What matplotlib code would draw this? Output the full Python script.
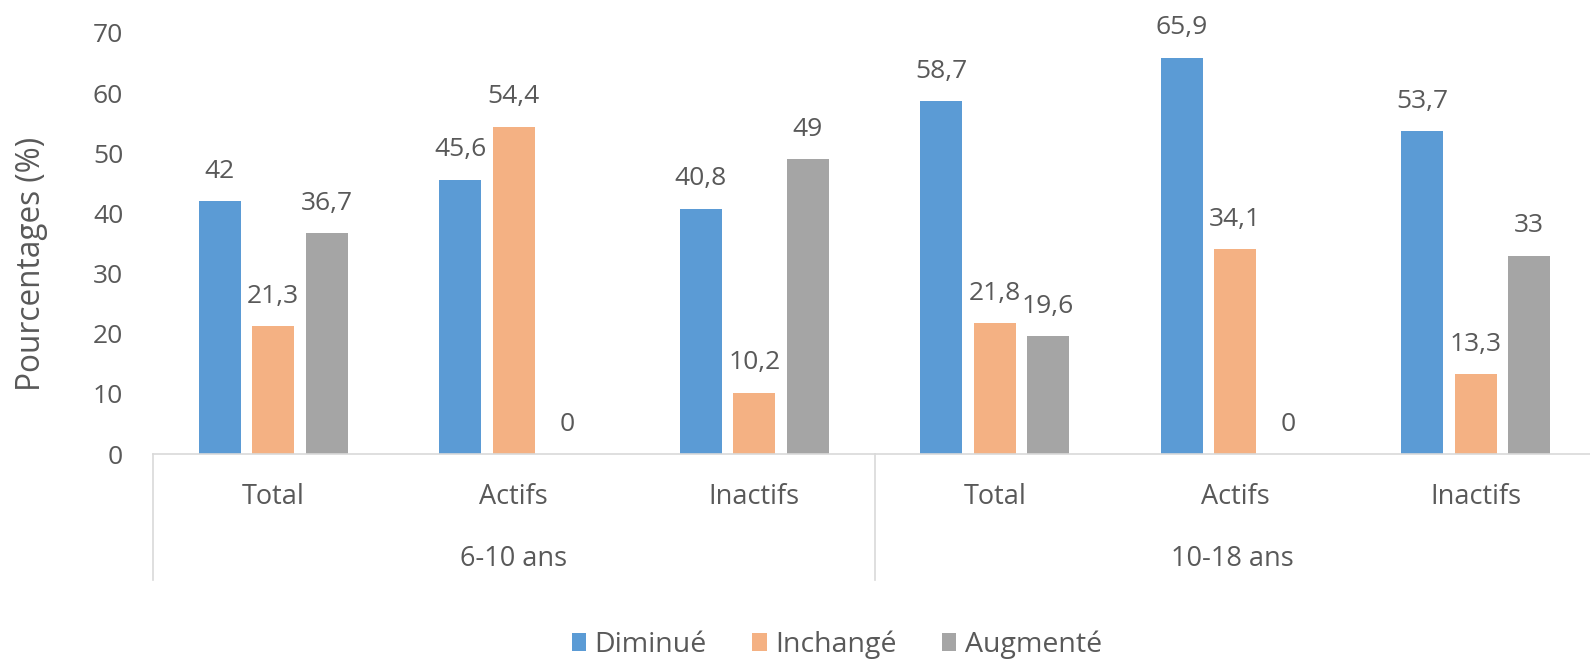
import matplotlib
matplotlib.use("Agg")
import matplotlib.pyplot as plt
import numpy as np

plt.rcParams['font.family'] = ['Open Sans', 'DejaVu Sans']

categories = ["Total", "Actifs", "Inactifs", "Total", "Actifs", "Inactifs"]
groups = ["6-10 ans", "10-18 ans"]
series_names = ["Diminué", "Inchangé", "Augmenté"]
diminue = [42, 45.6, 40.8, 58.7, 65.9, 53.7]
inchange = [21.3, 54.4, 10.2, 21.8, 34.1, 13.3]
augmente = [36.7, 0, 49, 19.6, 0, 33]
colors = ["#5B9BD5", "#F4B183", "#A5A5A5"]
yticks = [0, 10, 20, 30, 40, 50, 60, 70]

TXT = "#595959"
W, H = 1590, 662
fig = plt.figure(figsize=(W / 100, H / 100), dpi=100)
left, right = 153 / W, 1.0
bottom, top = 1 - 454 / H, 1 - 33 / H
ax = fig.add_axes([left, bottom, right - left, top - bottom])

x = np.arange(len(categories))
bw = 0.175
off = 0.222
series = [diminue, inchange, augmente]
for i, (vals, c, name) in enumerate(zip(series, colors, series_names)):
    pos = x + (i - 1) * off
    ax.bar(pos, vals, width=bw, color=c, label=name, zorder=2)
    for p, v in zip(pos, vals):
        lab = (f"{v:g}").replace(".", ",")
        ax.annotate(lab, (p, v), xytext=(0, 12.5), textcoords="offset points",
                    ha="center", va="bottom", fontsize=19, color=TXT)

span = (1590 - 153) / 240.5
ax.set_xlim(-0.5, -0.5 + span)
ax.set_ylim(0, 70)
ax.set_yticks(yticks)
ax.set_yticklabels([str(t) for t in yticks], fontsize=19, color=TXT)
ax.tick_params(axis="y", length=0, pad=21.5)
ax.set_xticks([])
for s in ["top", "right", "left"]:
    ax.spines[s].set_visible(False)
ax.spines["bottom"].set_color("#D9D9D9")
ax.spines["bottom"].set_linewidth(1.2)

trans = ax.get_xaxis_transform()
ph = 454 - 33
for xi, cat in zip(x, categories):
    ax.text(xi, -43 / ph, cat, transform=trans, ha="center", va="center",
            fontsize=19.5, color=TXT)
sep_y1 = -(580 - 454) / ph
for xs in [-0.5, 2.5]:
    ax.plot([xs, xs], [0, sep_y1], transform=trans, color="#D9D9D9",
            lw=1.2, clip_on=False)
grp_centers = [1.0, (2.5 + (-0.5 + span)) / 2]
for gc, g in zip(grp_centers, groups):
    ax.text(gc, -(559 - 454) / ph, g, transform=trans, ha="center",
            va="center", fontsize=19.5, color=TXT)

fig.text(32 / W, 1 - 264 / H, "Pourcentages (%)", rotation=90, ha="center",
         va="center", fontsize=22.7, color=TXT)

leg = fig.legend(loc="center", bbox_to_anchor=(837 / W, 1 - 645 / H), ncol=3,
                 frameon=False, fontsize=20.5, handlelength=0.5, handleheight=0.6,
                 handletextpad=0.3, columnspacing=1.6)
for t in leg.get_texts():
    t.set_color(TXT)

fig.savefig("out.png", dpi=100)
